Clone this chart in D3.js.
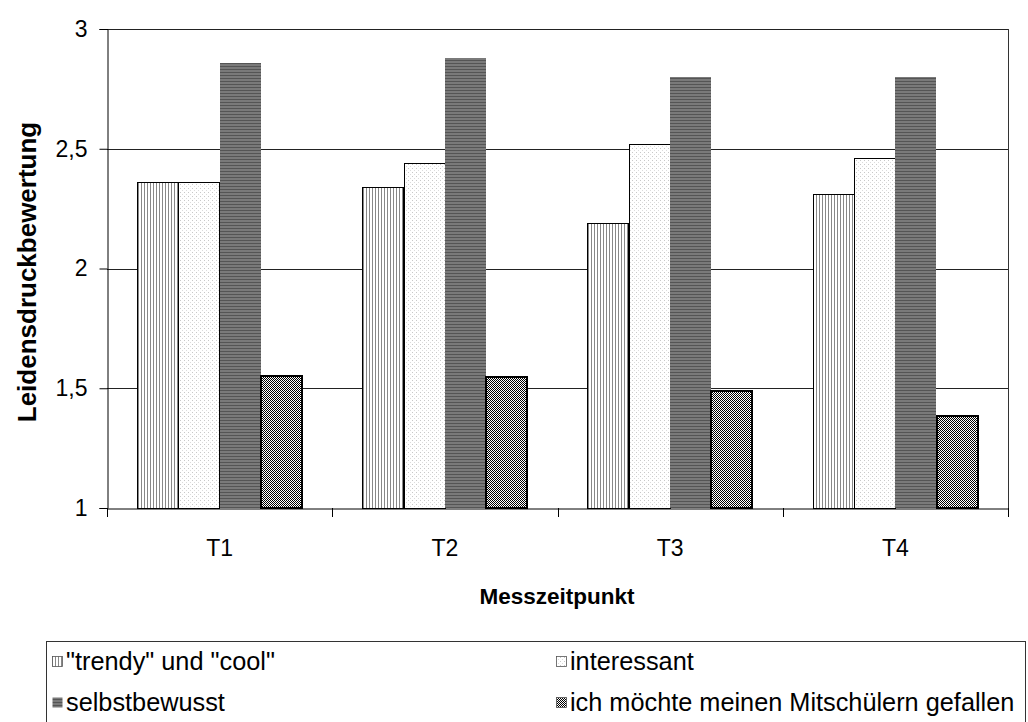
<!DOCTYPE html>
<html>
<head>
<meta charset="utf-8">
<script src="https://cdn.jsdelivr.net/npm/d3@7"></script>
<style>
  body { margin: 0; background: #fff; }
  svg { display: block; font-family: "Liberation Sans", Arial, sans-serif; }
</style>
</head>
<body>
<svg id="chart" width="1028" height="722"></svg>
<script>
const categories = ["T1", "T2", "T3", "T4"];
const seriesNames = ["\"trendy\" und \"cool\"", "interessant", "selbstbewusst", "ich möchte meinen Mitschülern gefallen"];
const trendyCool = [2.36, 2.34, 2.19, 2.31];
const interessant = [2.36, 2.44, 2.52, 2.46];
const selbstbewusst = [2.86, 2.88, 2.80, 2.80];
const gefallen = [1.55, 1.545, 1.49, 1.385];
const yTicks = [1, 1.5, 2, 2.5, 3];
const yTickLabels = ["1", "1,5", "2", "2,5", "3"];
const seriesValues = [trendyCool, interessant, selbstbewusst, gefallen];

const svg = d3.select("#chart");
const defs = svg.append("defs");

// Pattern 0: vertical grey lines
const p0 = defs.append("pattern").attr("id", "pat0").attr("patternUnits", "userSpaceOnUse")
  .attr("width", 3).attr("height", 3);
p0.append("rect").attr("width", 3).attr("height", 3).attr("fill", "#fff");
p0.append("rect").attr("x", 0).attr("width", 1).attr("height", 3).attr("fill", "#888");
// Pattern 1: light dots
const p1 = defs.append("pattern").attr("id", "pat1").attr("patternUnits", "userSpaceOnUse")
  .attr("width", 4).attr("height", 4);
p1.append("rect").attr("width", 4).attr("height", 4).attr("fill", "#fff");
p1.append("rect").attr("x", 0).attr("y", 0).attr("width", 1).attr("height", 1).attr("fill", "#c8c8c8");
p1.append("rect").attr("x", 2).attr("y", 2).attr("width", 1).attr("height", 1).attr("fill", "#dcdcdc");
// Pattern 2: dark horizontal stripes
const p2 = defs.append("pattern").attr("id", "pat2").attr("patternUnits", "userSpaceOnUse")
  .attr("width", 3).attr("height", 3);
p2.append("rect").attr("width", 3).attr("height", 3).attr("fill", "#7a7a7a");
p2.append("rect").attr("y", 0).attr("width", 3).attr("height", 1).attr("fill", "#555");
// Pattern 3: checkerboard
const p3 = defs.append("pattern").attr("id", "pat3").attr("patternUnits", "userSpaceOnUse")
  .attr("width", 2).attr("height", 2);
p3.append("rect").attr("width", 2).attr("height", 2).attr("fill", "#fff");
p3.append("rect").attr("x", 0).attr("y", 0).attr("width", 1).attr("height", 1).attr("fill", "#000");
p3.append("rect").attr("x", 1).attr("y", 1).attr("width", 1).attr("height", 1).attr("fill", "#000");

const fills = ["url(#pat0)", "url(#pat1)", "url(#pat2)", "url(#pat3)"];
const strokes = ["#000", "#000", "none", "#000"];
const strokeWidths = [1, 1, 0, 2];

const plotLeft = 107, plotRight = 1008, plotTop = 29, plotBottom = 508;

const y = d3.scaleLinear().domain([1, 3]).range([plotBottom, plotTop]);
const x0 = d3.scaleBand().domain(categories).range([plotLeft, plotRight]).padding(0);
const bw = x0.bandwidth();
const x1 = d3.scaleBand().domain(d3.range(seriesNames.length)).range([bw * 0.133, bw * 0.867]).padding(0);

// gridlines
svg.append("g").selectAll("line").data(yTicks.slice(1)).join("line")
  .attr("x1", plotLeft).attr("x2", plotRight)
  .attr("y1", d => Math.round(y(d)) + 0.5).attr("y2", d => Math.round(y(d)) + 0.5)
  .attr("stroke", "#222").attr("stroke-width", 1);

// right border
svg.append("line").attr("x1", plotRight + 0.5).attr("x2", plotRight + 0.5).attr("y1", plotTop).attr("y2", plotBottom)
  .attr("stroke", "#333");

// bars
const groups = svg.append("g").selectAll("g").data(categories).join("g");
groups.selectAll("rect")
  .data((c, ci) => seriesValues.map((vals, si) => ({ c, si, v: vals[ci] })))
  .join("rect")
  .attr("x", d => Math.round(x0(d.c) + x1(d.si)) + (strokeWidths[d.si] === 1 ? 0.5 : 0))
  .attr("width", Math.round(x1.bandwidth()))
  .attr("y", d => Math.round(y(d.v)) + (strokeWidths[d.si] === 1 ? 0.5 : 0))
  .attr("height", d => Math.round(y(1)) - Math.round(y(d.v)))
  .attr("fill", d => fills[d.si])
  .attr("stroke", d => strokes[d.si])
  .attr("stroke-width", d => strokeWidths[d.si]);

// y axis
const yAxis = d3.axisLeft(y).tickValues(yTicks).tickFormat((d, i) => yTickLabels[i]).tickSizeOuter(0).tickSize(8).tickPadding(12);
const gy = svg.append("g").attr("transform", `translate(${plotLeft + 0.5},0)`).call(yAxis);
gy.selectAll("text").attr("font-size", 23).attr("font-family", "Liberation Sans, Arial, sans-serif").attr("fill", "#000");
gy.selectAll("line").attr("stroke", "#000");
gy.select(".domain").attr("stroke", "#000");

// x axis
const xAxis = d3.axisBottom(x0).tickSize(0).tickPadding(31);
const gx = svg.append("g").attr("transform", `translate(0,${plotBottom + 0.5})`).call(xAxis);
gx.selectAll("text").attr("font-size", 23).attr("font-family", "Liberation Sans, Arial, sans-serif").attr("fill", "#000");
gx.select(".domain").attr("stroke", "#000");
// category boundary ticks
svg.append("g").selectAll("line").data(categories.concat(["end"])).join("line")
  .attr("x1", (d, i) => Math.round(plotLeft + i * bw) + 0.5)
  .attr("x2", (d, i) => Math.round(plotLeft + i * bw) + 0.5)
  .attr("y1", plotBottom).attr("y2", plotBottom + 9)
  .attr("stroke", "#000");

// axis titles
svg.append("text").attr("x", 557).attr("y", 604).attr("text-anchor", "middle")
  .attr("font-size", 22.5).attr("font-weight", "bold").text("Messzeitpunkt");
svg.append("text").attr("transform", `translate(36,272) rotate(-90)`)
  .attr("text-anchor", "middle").attr("font-size", 26).attr("font-weight", "bold").text("Leidensdruckbewertung");

// legend
svg.append("rect").attr("x", 46.5).attr("y", 641.5).attr("width", 979).attr("height", 100)
  .attr("fill", "#fff").attr("stroke", "#333");
const legPos = [[52, 661], [556, 661], [52, 702], [556, 702]];
const leg = svg.append("g").selectAll("g").data(seriesNames).join("g")
  .attr("transform", (d, i) => `translate(${legPos[i][0]},${legPos[i][1]})`);
leg.append("rect").attr("x", 0.5).attr("y", -4.5).attr("width", 10).attr("height", 10)
  .attr("fill", (d, i) => fills[i]).attr("stroke", (d, i) => i === 2 ? "none" : "#555").attr("stroke-width", 0.8);
leg.append("text").attr("x", 14).attr("y", 0).attr("dy", "0.35em").attr("font-size", 25.3).text(d => d);
</script>
</body>
</html>
